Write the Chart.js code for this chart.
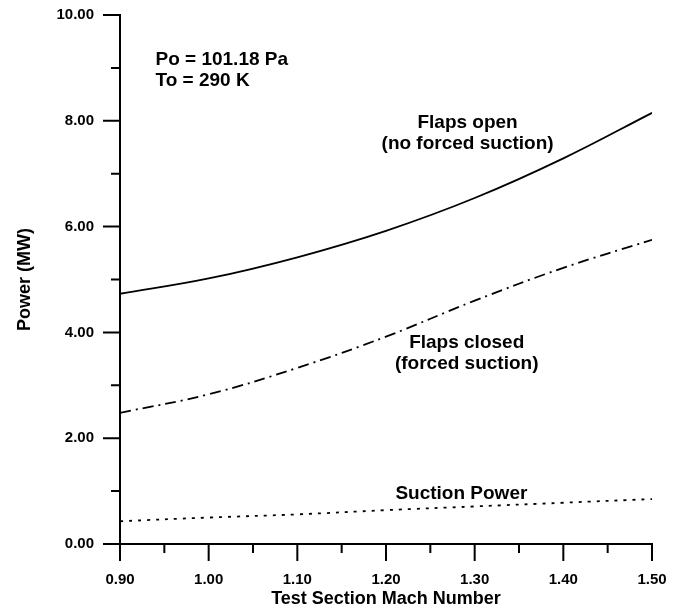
<!DOCTYPE html>
<html>
<head>
<meta charset="utf-8">
<script src="https://cdn.jsdelivr.net/npm/chart.js@4.4.1/dist/chart.umd.min.js"></script>
<style>
  html, body { margin: 0; padding: 0; background: #fff; }
  #wrap { width: 684px; height: 615px; }
</style>
</head>
<body>
<div id="wrap"><canvas id="myChart" width="684" height="615"></canvas></div>
<script>
// data
const machNumbers   = [0.90, 1.00, 1.10, 1.20, 1.30, 1.40, 1.50];
const flapsOpen     = [4.73, 5.02, 5.42, 5.92, 6.54, 7.29, 8.15];
const flapsClosed   = [2.48, 2.83, 3.33, 3.92, 4.60, 5.22, 5.75];
const suctionPower  = [0.43, 0.50, 0.56, 0.64, 0.71, 0.78, 0.85];

const xTicks = [0.90, 0.95, 1.00, 1.05, 1.10, 1.15, 1.20, 1.25, 1.30, 1.35, 1.40, 1.45, 1.50];
const yTicks = [0, 1, 2, 3, 4, 5, 6, 7, 8, 9, 10];

// text notes placed in data units
const notes = [
  { lines: ['Po = 101.18 Pa', 'To = 290 K'], x: 0.940, y: 9.16, align: 'left' },
  { lines: ['Flaps open', '(no forced suction)'], x: 1.292, y: 7.97, align: 'center' },
  { lines: ['Flaps closed', '(forced suction)'], x: 1.291, y: 3.80, align: 'center' },
  { lines: ['Suction Power'], x: 1.285, y: 0.95, align: 'center' }
];

const FONT = '"Liberation Sans", Arial, Helvetica, sans-serif';

function toPoints(ys) {
  return machNumbers.map((x, i) => ({ x: x, y: ys[i] }));
}

// tick marks: long for labelled ticks, short for the ones in between
const tickMarks = {
  id: 'tickMarks',
  afterDraw(chart) {
    const ctx = chart.ctx;
    const xs = chart.scales.x, ys = chart.scales.y;
    ctx.save();
    ctx.strokeStyle = '#000';
    ctx.lineWidth = 2;
    ctx.beginPath();
    xTicks.forEach(v => {
      const px = xs.getPixelForValue(v);
      const major = Math.round(v * 100) % 10 === 0;
      ctx.moveTo(px, ys.bottom);
      ctx.lineTo(px, ys.bottom + (major ? 17 : 9));
    });
    yTicks.forEach(v => {
      const py = ys.getPixelForValue(v);
      const major = v % 2 === 0;
      ctx.moveTo(xs.left, py);
      ctx.lineTo(xs.left - (major ? 17 : 9), py);
    });
    ctx.stroke();

    ctx.fillStyle = '#000';
    ctx.font = 'bold 19px ' + FONT;
    ctx.textBaseline = 'middle';
    notes.forEach(n => {
      ctx.textAlign = n.align;
      const px = xs.getPixelForValue(n.x);
      const py = ys.getPixelForValue(n.y);
      n.lines.forEach((t, i) => ctx.fillText(t, px, py + i * 21));
    });
    ctx.restore();
  }
};

const ctx = document.getElementById('myChart').getContext('2d');
const myChart = new Chart(ctx, {
  type: 'line',
  data: {
    datasets: [{
      label: 'Flaps open (no forced suction)',
      data: toPoints(flapsOpen),
      borderColor: '#000',
      borderWidth: 1.8
    }, {
      label: 'Flaps closed (forced suction)',
      data: toPoints(flapsClosed),
      borderColor: '#000',
      borderWidth: 1.8,
      borderDash: [11, 5, 2, 5]
    }, {
      label: 'Suction Power',
      data: toPoints(suctionPower),
      borderColor: '#000',
      borderWidth: 1.8,
      borderDash: [3, 6]
    }]
  },
  options: {
    responsive: false,
    animation: false,
    events: [],
    elements: {
      point: { radius: 0 },
      line: { tension: 0.4, fill: false }
    },
    layout: { padding: { top: 15, right: 32, bottom: 0, left: 0 } },
    plugins: { legend: { display: false }, tooltip: { enabled: false } },
    scales: {
      x: {
        type: 'linear',
        min: 0.9,
        max: 1.5,
        afterBuildTicks: axis => { axis.ticks = xTicks.map(v => ({ value: v })); },
        afterFit: axis => { axis.height = 71; axis.paddingLeft = 0; axis.paddingRight = 0; },
        grid: { display: false, drawTicks: false },
        border: { display: true, color: '#000', width: 2 },
        ticks: {
          padding: 27,
          color: '#000',
          font: { family: FONT, size: 15, weight: 'bold' },
          maxRotation: 0,
          autoSkip: false,
          callback: v => (Math.round(v * 100) % 10 === 0 ? v.toFixed(2) : '')
        },
        title: {
          display: true,
          text: 'Test Section Mach Number',
          color: '#000',
          font: { family: FONT, size: 18, weight: 'bold' },
          padding: { top: 0, bottom: 5 }
        }
      },
      y: {
        min: 0,
        max: 10,
        afterBuildTicks: axis => { axis.ticks = yTicks.map(v => ({ value: v })); },
        afterFit: axis => { axis.width = 120; axis.paddingTop = 0; axis.paddingBottom = 0; },
        grid: { display: false, drawTicks: false },
        border: { display: true, color: '#000', width: 2 },
        ticks: {
          padding: 26,
          color: '#000',
          font: { family: FONT, size: 15, weight: 'bold' },
          autoSkip: false,
          callback: v => (v % 2 === 0 ? v.toFixed(2) : '')
        },
        title: {
          display: true,
          text: 'Power (MW)',
          color: '#000',
          font: { family: FONT, size: 18, weight: 'bold' },
          padding: { top: 14, bottom: 0 }
        }
      }
    }
  },
  plugins: [tickMarks]
});
</script>
</body>
</html>
